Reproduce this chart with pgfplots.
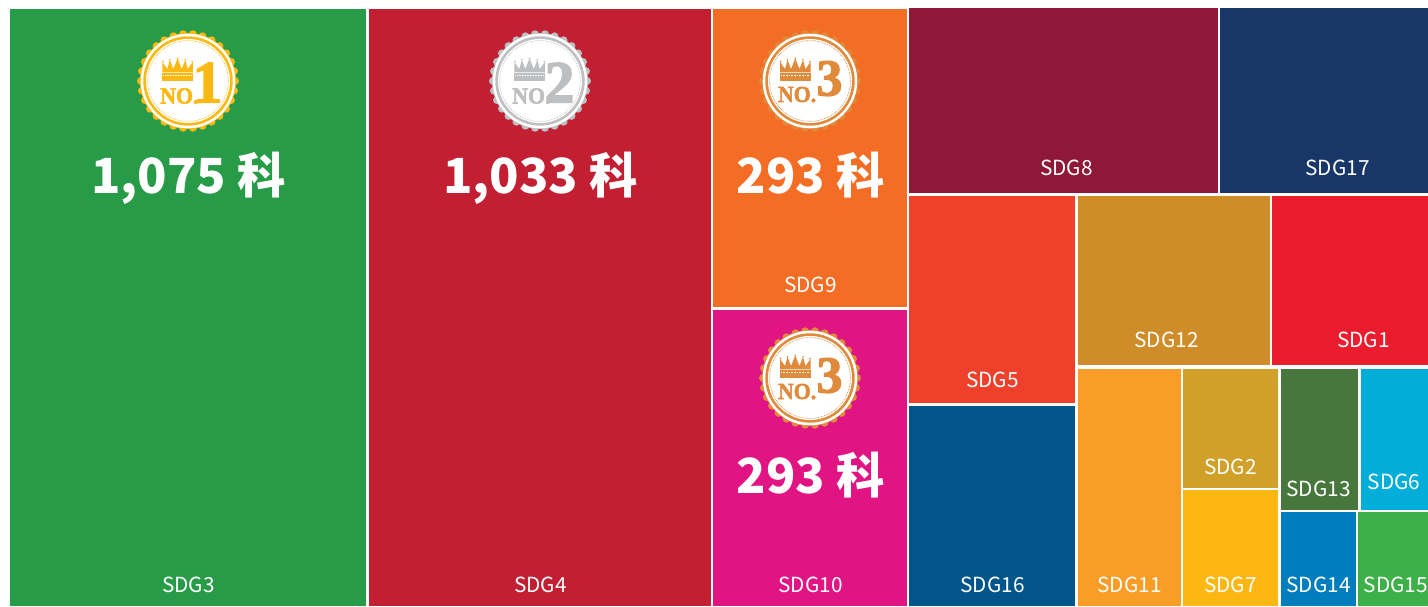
\documentclass[border=0pt]{standalone}
\usepackage{fontspec}
\usepackage{pgfplots}
\pgfplotsset{compat=1.18}
\setmainfont{Liberation Serif}
\newfontfamily\fat[FakeBold=2.2]{Liberation Serif Bold}
\newfontfamily\cjk{Noto Sans CJK TC}
\newcommand\fs[1]{\fontsize{#1}{#1}\selectfont}
\definecolor{c1}{HTML}{EB1C2D}\definecolor{c2}{HTML}{D0A028}\definecolor{c3}{HTML}{279B48}
\definecolor{c4}{HTML}{C31F33}\definecolor{c5}{HTML}{EF402B}\definecolor{c6}{HTML}{00AED9}
\definecolor{c7}{HTML}{FDB713}\definecolor{c8}{HTML}{8F1838}\definecolor{c9}{HTML}{F36D25}
\definecolor{c10}{HTML}{E11484}\definecolor{c11}{HTML}{F99D26}\definecolor{c12}{HTML}{CF8D2A}
\definecolor{c13}{HTML}{48773E}\definecolor{c14}{HTML}{007DBC}\definecolor{c15}{HTML}{3EB049}
\definecolor{c16}{HTML}{02558B}\definecolor{c17}{HTML}{183668}
\definecolor{gold}{HTML}{FDB913}\definecolor{silver}{HTML}{BDBFC1}\definecolor{bronze}{HTML}{E08A3C}
% #1 colour, #2 x0, #3 x1, #4 y0, #5 y1, #6 label, #7 label x, #8 baseline y
\newcommand\cell[8]{%
  \addplot[draw=none,fill=#1,forget plot] coordinates {(#2,#4)(#3,#4)(#3,#5)(#2,#5)} -- cycle;
  \node[anchor=base,text=white,inner sep=0pt,font=\cjk\fs{20.8}] at (axis cs:#7,#8) {#6};
}
% #1 cx, #2 cy(from top), #3 colour, #4 digit, #5 crown dx, #6 NO. baseline, #7 digit x,y, #8 digit size
\newcommand\badge[8]{%
  \begin{scope}[shift={(#1pt,606pt-#2pt)},x=1pt,y=1pt]
    \foreach \a in {0,12,...,348} \fill[#3] (\a:47) circle (4);
    \fill[#3] (0,0) circle (48);
    \fill[white] (0,0) circle (47.3);
    \fill[#3] (0,0) circle (44.7);
    \fill[white] (0,0) circle (42);
    \draw[#3,line width=0.6pt,dash pattern=on 0.8pt off 0.8pt] (0,0) circle (40.4);
    \begin{scope}[shift={(#5,0)}]
      \fill[#3] (0,0) rectangle (30.5,7.5);
      \draw[white,line width=0.5pt,dash pattern=on 1pt off 0.6pt] (1,6) -- (29.5,6);
      \fill[#3] (0,8.5) -- (0,19) -- (5,12) -- (7.5,21) -- (11,12) -- (15.2,22.5)
        -- (19.5,12) -- (23,21) -- (25.5,12) -- (30.5,19) -- (30.5,8.5) -- cycle;
      \fill[#3] (0.6,19.5) circle (0.9) (7.5,21.3) circle (0.9) (15.2,22.6) circle (0.9) (23,21.3) circle (0.9) (29.9,19.5) circle (0.9);
    \end{scope}
    \node[anchor=base west,inner sep=0pt,text=#3,font=\fat\fs{23},xscale=0.95] at (#5-2.2,#6) {NO.};
    \node[anchor=base,inner sep=0pt,text=#3,font=\fat\fs{#8}] at (#7) {#4};
  \end{scope}
}
\begin{document}
\begin{tikzpicture}[x=1pt,y=1pt]
\useasboundingbox (0,0) rectangle (1428,606);
\fill[white] (0,0) rectangle (1428,606);
\begin{axis}[at={(0pt,0pt)},anchor=south west,scale only axis,width=1428pt,height=606pt,
  xmin=0,xmax=1428,ymin=0,ymax=606,y dir=reverse,hide axis,clip=true]
\cell{c3}{10}{366}{9}{606}{SDG3}{188.5}{592}
\cell{c4}{369}{711}{9}{606}{SDG4}{540.5}{592}
\cell{c9}{713}{907}{9}{307}{SDG9}{810.5}{292}
\cell{c10}{713}{907}{310}{606}{SDG10}{810.5}{592}
\cell{c8}{909}{1218}{8}{193}{SDG8}{1066.5}{175}
\cell{c17}{1220}{1428}{8}{193}{SDG17}{1337.5}{175}
\cell{c5}{909}{1075}{196}{403}{SDG5}{992.5}{387}
\cell{c16}{909}{1075}{406}{606}{SDG16}{992.5}{592}
\cell{c12}{1078}{1270}{196}{365}{SDG12}{1166.5}{347}
\cell{c1}{1272}{1428}{196}{365}{SDG1}{1363.5}{347}
\cell{c11}{1078}{1181}{369}{606}{SDG11}{1129.5}{592}
\cell{c2}{1183}{1278}{369}{488}{SDG2}{1230.5}{474.3}
\cell{c7}{1183}{1278}{490}{606}{SDG7}{1230.5}{592}
\cell{c13}{1281}{1358}{369}{510}{SDG13}{1318.5}{496.3}
\cell{c6}{1361}{1428}{369}{510}{SDG6}{1394}{489.3}
\cell{c14}{1281}{1356}{512}{606}{SDG14}{1318.5}{592}
\cell{c15}{1358}{1428}{512}{606}{SDG15}{1396}{592}
\node[anchor=base,text=white,inner sep=0pt,font=\cjk\bfseries\fs{48.4}] at (axis cs:188.5,193.2) {1,075 科};
\node[anchor=base,text=white,inner sep=0pt,font=\cjk\bfseries\fs{48.4}] at (axis cs:540.5,193.2) {1,033 科};
\node[anchor=base,text=white,inner sep=0pt,font=\cjk\bfseries\fs{48.4}] at (axis cs:810.5,193.2) {293 科};
\node[anchor=base,text=white,inner sep=0pt,font=\cjk\bfseries\fs{48.4}] at (axis cs:810.5,493.2) {293 科};
\end{axis}
\badge{188}{81}{gold}{1}{-25.7}{-22.5}{19.5,-21.5}{60}
\badge{540}{81}{silver}{2}{-25.7}{-22.5}{19.5,-21.5}{60}
\badge{810}{81}{bronze}{3}{-30}{-21}{19.5,-14.5}{52}
\badge{810}{378}{bronze}{3}{-30}{-21}{19.5,-14.5}{52}
\end{tikzpicture}
\end{document}
